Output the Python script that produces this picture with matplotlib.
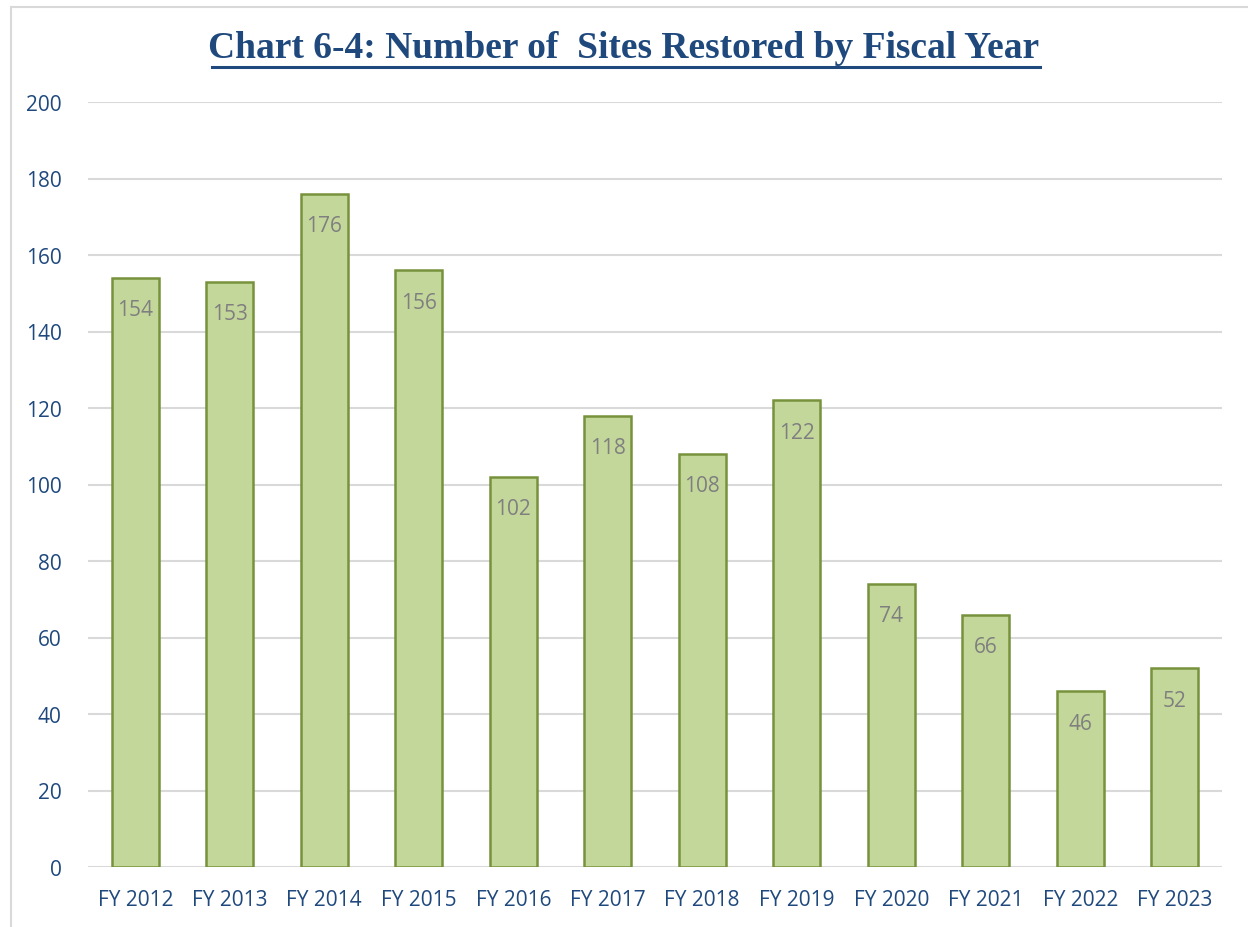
import matplotlib
matplotlib.use("Agg")
import matplotlib.pyplot as plt
from matplotlib.lines import Line2D

categories = ["FY 2012", "FY 2013", "FY 2014", "FY 2015", "FY 2016", "FY 2017",
              "FY 2018", "FY 2019", "FY 2020", "FY 2021", "FY 2022", "FY 2023"]
values = [154, 153, 176, 156, 102, 118, 108, 122, 74, 66, 46, 52]
yticks = [0, 20, 40, 60, 80, 100, 120, 140, 160, 180, 200]
title = "Chart 6-4: Number of  Sites Restored by Fiscal Year"

W, H = 1248, 928
fig = plt.figure(figsize=(W / 100, H / 100), dpi=100)
ax = fig.add_axes([88 / W, 1 - 868 / H, (1222 - 88) / W, (868 - 103) / H])

x = list(range(len(categories)))
ax.bar(x, values, width=0.5, color="#C4D79B", edgecolor="#76923C", linewidth=1.8, zorder=3)
for xi, v in zip(x, values):
    ax.annotate(str(v), (xi, v), xytext=(0, -15.5), textcoords="offset points",
                ha="center", va="top", color="#7F7F7F", fontsize=15, family="Open Sans", zorder=4)

ax.set_ylim(0, 200)
ax.set_xlim(-0.5, len(categories) - 0.5)
ax.set_yticks(yticks)
ax.set_xticks(x)
ax.set_xticklabels(categories)
ax.tick_params(axis="both", length=0, colors="#1F497D", labelsize=15)
ax.tick_params(axis="y", pad=19)
ax.tick_params(axis="x", pad=16)
for lab in ax.get_xticklabels() + ax.get_yticklabels():
    lab.set_family("Open Sans")
ax.yaxis.grid(True, color="#D9D9D9", linewidth=1.5, zorder=0)
for s in ax.spines.values():
    s.set_visible(False)

fig.text(0.5, 1 - 48 / H, title, ha="center", va="center", fontsize=27, fontweight="bold",
         family="Liberation Serif", color="#1F497D")
# underline
fig.add_artist(Line2D([212 / W, 1040 / W], [1 - 68 / H, 1 - 68 / H], color="#1F497D", linewidth=2.2))

# outer border
fig.add_artist(Line2D([11 / W, 11 / W], [0, 1 - 8 / H], color="#D9D9D9", linewidth=1.5))
fig.add_artist(Line2D([11 / W, 1], [1 - 8 / H, 1 - 8 / H], color="#D9D9D9", linewidth=1.5))

fig.savefig("out.png", dpi=100)
